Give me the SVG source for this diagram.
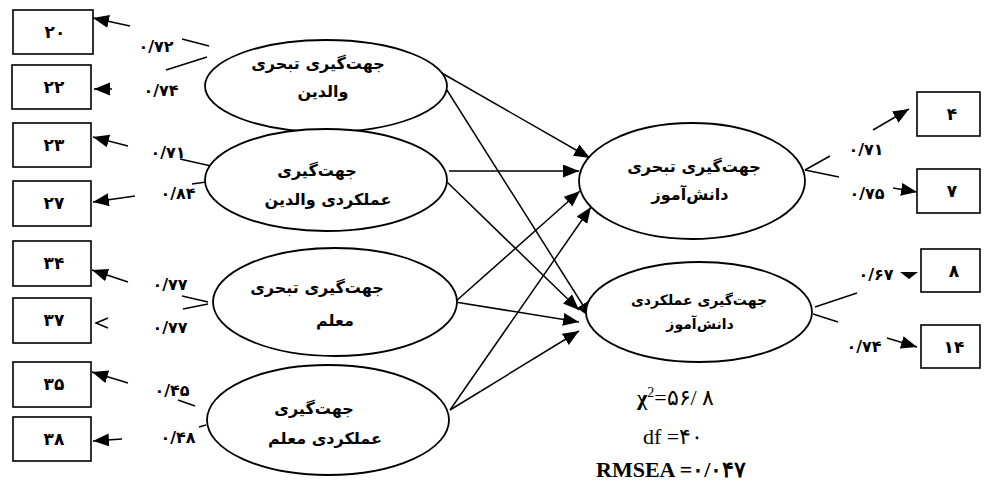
<svg xmlns="http://www.w3.org/2000/svg" width="989" height="489" viewBox="0 0 989 489">
<defs>
<marker id="ah" markerUnits="userSpaceOnUse" markerWidth="17" markerHeight="14" refX="16" refY="6.5" orient="auto">
<path d="M0,0 L16,6.5 L0,13 z" fill="#000"/>
</marker>
<style>
.box{fill:#fff;stroke:#000;stroke-width:1.6}
.ell{fill:#fff;stroke:#000;stroke-width:1.8}
.ln{fill:none;stroke:#000;stroke-width:1.5}
.ar{fill:none;stroke:#000;stroke-width:1.5;marker-end:url(#ah)}
.bt{font-family:"DejaVu Sans",sans-serif;font-weight:bold;font-size:17px;text-anchor:middle;letter-spacing:4px}
.lt{font-family:"DejaVu Sans",sans-serif;font-weight:bold;font-size:16px;text-anchor:middle;letter-spacing:2px}
.et{font-family:"DejaVu Sans",sans-serif;font-weight:bold;font-size:16px;text-anchor:middle}
.st{font-family:"Liberation Serif",serif;font-size:22px}
</style>
</defs>
<rect width="989" height="489" fill="#fff"/>

<g id="connectors">
<line class="ar" x1="433" y1="68" x2="590" y2="158"/>
<line class="ar" x1="433" y1="68" x2="591" y2="318"/>
<line class="ar" x1="449" y1="171" x2="579" y2="171"/>
<line class="ar" x1="447" y1="182" x2="579" y2="310"/>
<line class="ar" x1="455" y1="302" x2="580" y2="191"/>
<line class="ar" x1="455" y1="302" x2="579" y2="322"/>
<line class="ar" x1="450" y1="410" x2="591" y2="207"/>
<line class="ar" x1="450" y1="410" x2="579" y2="331"/>

<line class="ln" x1="209" y1="46" x2="182" y2="39"/>
<line class="ln" x1="207" y1="57" x2="166" y2="70"/>
<line class="ln" x1="180" y1="159" x2="220" y2="168"/>
<line class="ln" x1="192" y1="184" x2="213" y2="181"/>
<line class="ln" x1="182" y1="296" x2="208" y2="302"/>
<line class="ln" x1="183" y1="309" x2="208" y2="304"/>
<line class="ln" x1="178" y1="400" x2="195" y2="406"/>
<line class="ln" x1="199" y1="427" x2="206" y2="425"/>
<line class="ln" x1="805" y1="170" x2="830" y2="156"/>
<line class="ln" x1="805" y1="170" x2="839" y2="177"/>
<line class="ln" x1="815" y1="307" x2="857" y2="293"/>
<line class="ln" x1="813" y1="314" x2="838" y2="322"/>

<line class="ar" x1="130" y1="26" x2="93" y2="18"/>
<line class="ar" x1="112" y1="89" x2="94" y2="89"/>
<line class="ar" x1="128" y1="146" x2="93" y2="137"/>
<line class="ar" x1="135" y1="196" x2="93" y2="202"/>
<line class="ar" x1="128" y1="282" x2="92" y2="270"/>
<polyline class="ln" points="108,318 96,323 108,328"/>
<line class="ar" x1="128" y1="383" x2="92" y2="372"/>
<line class="ar" x1="122" y1="439" x2="93" y2="441"/>
<line class="ar" x1="873" y1="130" x2="909" y2="109"/>
<line class="ar" x1="893" y1="188" x2="917" y2="192"/>
<polygon points="900,272 918,272 909,279" fill="#000"/>
<line class="ar" x1="887" y1="338" x2="917" y2="347"/>
</g>

<g id="box-20"><rect class="box" x="13" y="10" width="80" height="44"/><text class="bt" x="55" y="38">۲۰</text></g>
<g id="box-22"><rect class="box" x="12" y="65" width="79" height="44"/><text class="bt" x="54" y="93">۲۲</text></g>
<g id="box-23"><rect class="box" x="13" y="123" width="78" height="44"/><text class="bt" x="54" y="151">۲۳</text></g>
<g id="box-27"><rect class="box" x="13" y="181" width="78" height="45"/><text class="bt" x="54" y="209">۲۷</text></g>
<g id="box-34"><rect class="box" x="13" y="241" width="78" height="45"/><text class="bt" x="54" y="269">۳۴</text></g>
<g id="box-37"><rect class="box" x="13" y="298" width="78" height="45"/><text class="bt" x="54" y="326">۳۷</text></g>
<g id="box-35"><rect class="box" x="13" y="362" width="78" height="45"/><text class="bt" x="54" y="390">۳۵</text></g>
<g id="box-38"><rect class="box" x="13" y="417" width="78" height="44"/><text class="bt" x="54" y="445">۳۸</text></g>
<g id="box-4"><rect class="box" x="917" y="92" width="63" height="44"/><text class="bt" x="952" y="120">۴</text></g>
<g id="box-7"><rect class="box" x="917" y="169" width="63" height="44"/><text class="bt" x="952" y="197">۷</text></g>
<g id="box-8"><rect class="box" x="921" y="249" width="59" height="43"/><text class="bt" x="954" y="277">۸</text></g>
<g id="box-14"><rect class="box" x="921" y="325" width="59" height="43"/><text class="bt" x="954" y="353">۱۴</text></g>

<g id="e1"><ellipse class="ell" cx="326" cy="86" rx="121" ry="46"/><text class="et" x="318" y="69">جهت‌گیری تبحری</text><text class="et" x="323" y="97">والدین</text></g>
<g id="e2"><ellipse class="ell" cx="326" cy="180" rx="121" ry="51"/><text class="et" x="317" y="176">جهت‌گیری</text><text class="et" x="328" y="205">عملکردی والدین</text></g>
<g id="e3"><ellipse class="ell" cx="335" cy="302" rx="122" ry="54"/><text class="et" x="317" y="293">جهت‌گیری تبحری</text><text class="et" x="335" y="326">معلم</text></g>
<g id="e4"><ellipse class="ell" cx="328" cy="420" rx="121" ry="55"/><text class="et" x="314" y="414">جهت‌گیری</text><text class="et" x="325" y="444">عملکردی معلم</text></g>
<g id="e5"><ellipse class="ell" cx="692" cy="181" rx="113" ry="58"/><text class="et" x="694" y="172">جهت‌گیری تبحری</text><text class="et" x="690" y="200">دانش‌آموز</text></g>
<g id="e6"><ellipse class="ell" cx="699" cy="312" rx="113" ry="50"/><text class="et" x="699" y="305" style="font-size:14px">جهت‌گیری عملکردی</text><text class="et" x="700" y="329" style="font-size:14px">دانش‌آموز</text></g>

<g id="loadings">
<text class="lt" x="156" y="52">۰/۷۲</text>
<text class="lt" x="161" y="96">۰/۷۴</text>
<text class="lt" x="168" y="158">۰/۷۱</text>
<text class="lt" x="178" y="199">۰/۸۴</text>
<text class="lt" x="170" y="290">۰/۷۷</text>
<text class="lt" x="170" y="333">۰/۷۷</text>
<text class="lt" x="172" y="396">۰/۴۵</text>
<text class="lt" x="178" y="443">۰/۴۸</text>
<text class="lt" x="866" y="155">۰/۷۱</text>
<text class="lt" x="867" y="199">۰/۷۵</text>
<text class="lt" x="876" y="280">۰/۶۷</text>
<text class="lt" x="864" y="352">۰/۷۴</text>
</g>

<g id="fit">
<text class="st" x="637" y="405"><tspan font-weight="bold">χ</tspan><tspan font-size="14" dy="-8">2</tspan><tspan dy="8">=۵۶/ ۸</tspan></text>
<text class="st" x="643" y="444">df =۴۰</text>
<text class="st" x="596" y="477" font-weight="bold" font-size="21">RMSEA =۰/۰۴۷</text>
</g>
</svg>
